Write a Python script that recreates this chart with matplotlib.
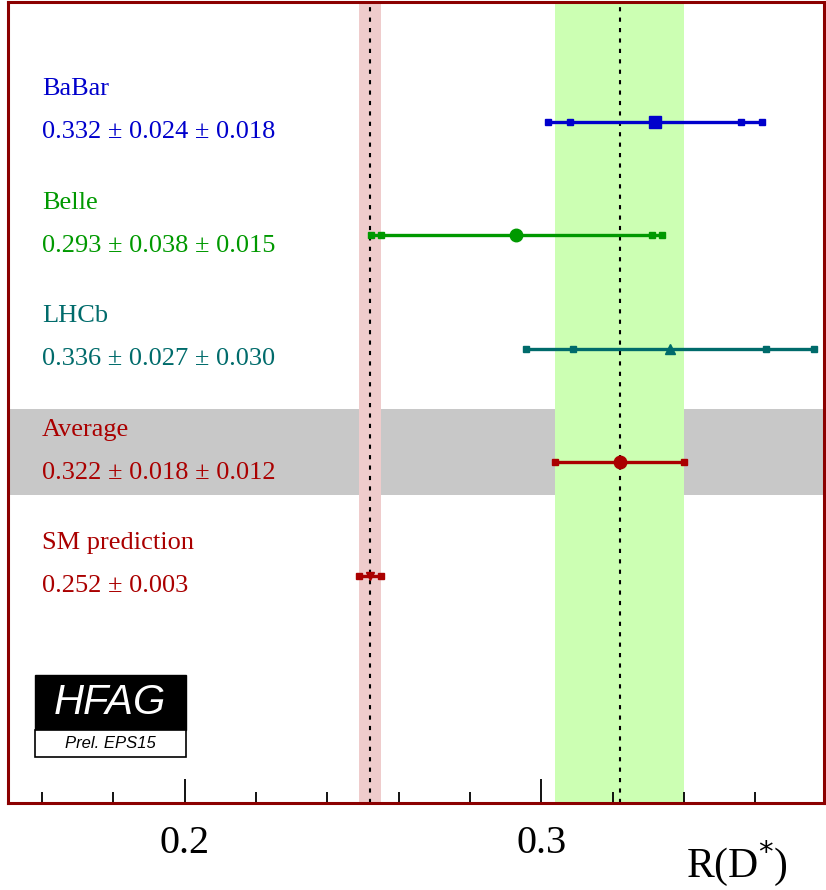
import numpy as np
import matplotlib.pyplot as plt
from matplotlib.transforms import blended_transform_factory
from matplotlib.patches import Rectangle

# dados das medidas de R(D*)
nomes = ['BaBar', 'Belle', 'LHCb']
valores = [0.332, 0.293, 0.336]
erro_stat = [0.024, 0.038, 0.027]
erro_syst = [0.018, 0.015, 0.030]
cores = ['#0000cc', '#009900', '#006b6b']
marcadores = ['s', 'o', '^']
tamanhos = [9, 9, 7]

media = 0.322
media_stat = 0.018
media_syst = 0.012
media_banda = 0.018   # meia largura da faixa verde

sm = 0.252
sm_err = 0.003

plt.rcParams['font.family'] = ['Liberation Serif', 'DejaVu Serif']

fig = plt.figure(figsize=(8.26, 8.90), dpi=100)
ax = fig.add_axes([8/826, 87/890, 816/826, 801/890])
ax.set_xlim(0.1505, 0.3793)
ax.set_ylim(6.0, -1.057)

verm = '#8b0000'
trans = blended_transform_factory(ax.transAxes, ax.transData)
fs = 19
pm = ' \u00b1 '

# faixa cinza da media
ax.axhspan(2.53, 3.29, color='#c8c8c8', lw=0, zorder=0)
# faixas verticais
ax.axvspan(media - media_banda, media + media_banda, color='#ccffb3', lw=0, zorder=1)
ax.axvspan(sm - sm_err, sm + sm_err, color='#efcccc', lw=0, zorder=1)
ax.axvline(media, color='k', ls=(0, (2, 3)), lw=1.5, zorder=2)
ax.axvline(sm, color='k', ls=(0, (2, 3)), lw=1.5, zorder=2)

tx = 34/816
for i in range(3):
    v = valores[i]
    tot = np.sqrt(erro_stat[i]**2 + erro_syst[i]**2)
    c = cores[i]
    ax.plot([v - tot, v + tot], [i, i], color=c, lw=2.4, zorder=3)
    ax.plot([v - tot, v - erro_stat[i], v + erro_stat[i], v + tot], [i]*4, 's',
            color=c, ms=4, zorder=3)
    ax.plot(v, i, marcadores[i], color=c, ms=tamanhos[i], zorder=4)
    ax.text(tx, i - 0.29, nomes[i], color=c, fontsize=fs, va='center', transform=trans)
    ax.text(tx, i + 0.09, '%.3f' % v + pm + '%.3f' % erro_stat[i] + pm + '%.3f' % erro_syst[i],
            color=c, fontsize=fs, va='center', transform=trans)

# media
cm = '#aa0000'
ax.plot([media - media_banda, media + media_banda], [3, 3], color=cm, lw=2.4, zorder=3)
ax.plot([media - media_banda, media + media_banda], [3, 3], 's', color=cm, ms=4, zorder=3)
ax.plot(media, 3, 'o', color=cm, ms=9, zorder=4)
ax.text(tx, 3 - 0.29, 'Average', color=cm, fontsize=fs, va='center', transform=trans)
ax.text(tx, 3 + 0.09, '%.3f' % media + pm + '%.3f' % media_stat + pm + '%.3f' % media_syst,
        color=cm, fontsize=fs, va='center', transform=trans)

# previsao do SM
ax.plot([sm - sm_err, sm + sm_err], [4, 4], color=cm, lw=2.4, zorder=3)
ax.plot([sm - sm_err, sm + sm_err], [4, 4], 's', color=cm, ms=4, zorder=3)
ax.plot(sm, 4, 'v', color=cm, ms=6, zorder=4)
ax.text(tx, 4 - 0.29, 'SM prediction', color=cm, fontsize=fs, va='center', transform=trans)
ax.text(tx, 4 + 0.09, '%.3f' % sm + pm + '%.3f' % sm_err,
        color=cm, fontsize=fs, va='center', transform=trans)

# logo HFAG
ax.add_patch(Rectangle((27/816, 73/801), 151/816, 55/801, transform=ax.transAxes,
                       facecolor='black', edgecolor='black', lw=1, zorder=5))
ax.add_patch(Rectangle((27/816, 46/801), 151/816, 27/801, transform=ax.transAxes,
                       facecolor='white', edgecolor='black', lw=1.2, zorder=5))
ax.text(102/816, 100/801, 'HFAG', color='white', fontsize=30, style='italic',
        family='Liberation Sans', ha='center', va='center', transform=ax.transAxes, zorder=6)
ax.text(102/816, 59/801, 'Prel. EPS15', color='black', fontsize=12, style='italic',
        family='Liberation Sans', ha='center', va='center', transform=ax.transAxes, zorder=6)

# eixos
for s in ax.spines.values():
    s.set_color(verm)
    s.set_linewidth(2.2)
    s.set_zorder(7)
ax.set_yticks([])
ax.set_xticks([0.2, 0.3])
ax.set_xticklabels(['0.2', '0.3'], fontsize=29)
ax.set_xticks(np.arange(0.16, 0.38, 0.02), minor=True)
ax.tick_params(axis='x', which='major', direction='in', length=17, width=1.3, pad=16)
ax.tick_params(axis='x', which='minor', direction='in', length=8, width=1.3)
fig.text(737/826, 27/890, 'R(D$^{*}$)', fontsize=30, ha='center', va='center')

fig.savefig('out.png', dpi=100)
